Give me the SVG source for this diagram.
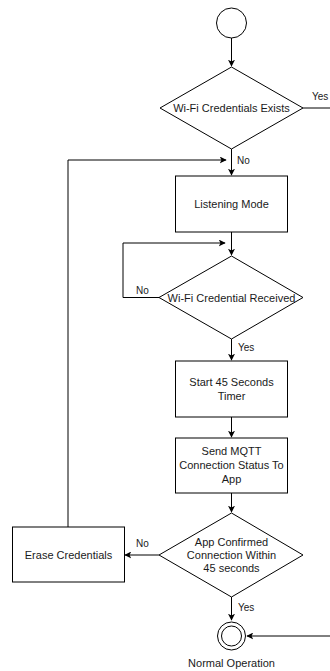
<svg xmlns="http://www.w3.org/2000/svg" width="330" height="671" viewBox="0 0 330 671">
  <style>
    .shape { fill: #ffffff; stroke: #000000; stroke-width: 1; }
    .edge { fill: none; stroke: #000000; stroke-width: 1; }
    .arrow { marker-end: url(#head); }
    text { font-family: "Liberation Sans", Arial, sans-serif; font-size: 11px; fill: #1a1a1a; }
    .c { text-anchor: middle; }
    .lbl { font-size: 10px; }
  </style>
  <defs>
    <marker id="head" viewBox="0 0 10 10" refX="9" refY="5" markerWidth="7" markerHeight="7" markerUnits="userSpaceOnUse" orient="auto">
      <path d="M0,0 L10,5 L0,10 L2.5,5 Z" fill="#000000"/>
    </marker>
  </defs>
  <rect width="330" height="671" fill="#ffffff"/>

  <g id="connectors">
    <path class="edge arrow" d="M231.5,38 V66"/>
    <path class="edge arrow" d="M231.5,149 V175"/>
    <path class="edge" d="M303,108 H330"/>
    <path class="edge arrow" d="M68,527 V160 H226"/>
    <path class="edge arrow" d="M231.5,232 V255"/>
    <path class="edge arrow" d="M159,297.5 H123 V243 H225"/>
    <path class="edge arrow" d="M231.5,339 V360"/>
    <path class="edge arrow" d="M231.5,417 V437"/>
    <path class="edge arrow" d="M231.5,493 V512"/>
    <path class="edge arrow" d="M159,555 H125"/>
    <path class="edge arrow" d="M231.5,597 V620"/>
    <path class="edge arrow" d="M330,636 H247"/>
    <text class="lbl" x="312" y="100">Yes</text>
    <text class="lbl" x="237" y="164">No</text>
    <text class="lbl" x="136" y="294">No</text>
    <text class="lbl" x="238" y="351">Yes</text>
    <text class="lbl" x="136" y="547">No</text>
    <text class="lbl" x="238" y="611">Yes</text>
  </g>

  <g id="start">
    <circle class="shape" cx="231.5" cy="23" r="15" stroke-width="1.5"/>
  </g>

  <g id="credentials-exist">
    <polygon class="shape" points="231.5,67 303,108 231.5,149 160,108"/>
    <text class="c" x="231.5" y="112">Wi-Fi Credentials Exists</text>
  </g>

  <g id="listening-mode">
    <rect class="shape" x="175.5" y="176" width="112" height="56"/>
    <text class="c" x="231.5" y="207.5">Listening Mode</text>
  </g>

  <g id="credential-received">
    <polygon class="shape" points="231.5,256 303,297.5 231.5,339 159,297.5"/>
    <text class="c" x="231.5" y="301.5">Wi-Fi Credential Received</text>
  </g>

  <g id="start-timer">
    <rect class="shape" x="175.5" y="361" width="112" height="56"/>
    <text class="c" x="231.5" y="386">Start 45 Seconds</text>
    <text class="c" x="231.5" y="400">Timer</text>
  </g>

  <g id="send-status">
    <rect class="shape" x="175.5" y="438" width="112" height="55"/>
    <text class="c" x="231.5" y="455">Send MQTT</text>
    <text class="c" x="231.5" y="469">Connection Status To</text>
    <text class="c" x="231.5" y="483">App</text>
  </g>

  <g id="app-confirmed">
    <polygon class="shape" points="231.5,513 303,555 231.5,597 159,555"/>
    <text class="c" x="231.5" y="545.5">App Confirmed</text>
    <text class="c" x="231.5" y="558.5">Connection Within</text>
    <text class="c" x="231.5" y="572">45 seconds</text>
  </g>

  <g id="erase-credentials">
    <rect class="shape" x="12.5" y="527" width="112" height="55"/>
    <text class="c" x="68.5" y="558.5">Erase Credentials</text>
  </g>

  <g id="normal-operation">
    <circle class="shape" cx="231.5" cy="636" r="14"/>
    <circle class="shape" cx="231.5" cy="636" r="10"/>
    <text class="c" x="231.5" y="667">Normal Operation</text>
  </g>
</svg>
